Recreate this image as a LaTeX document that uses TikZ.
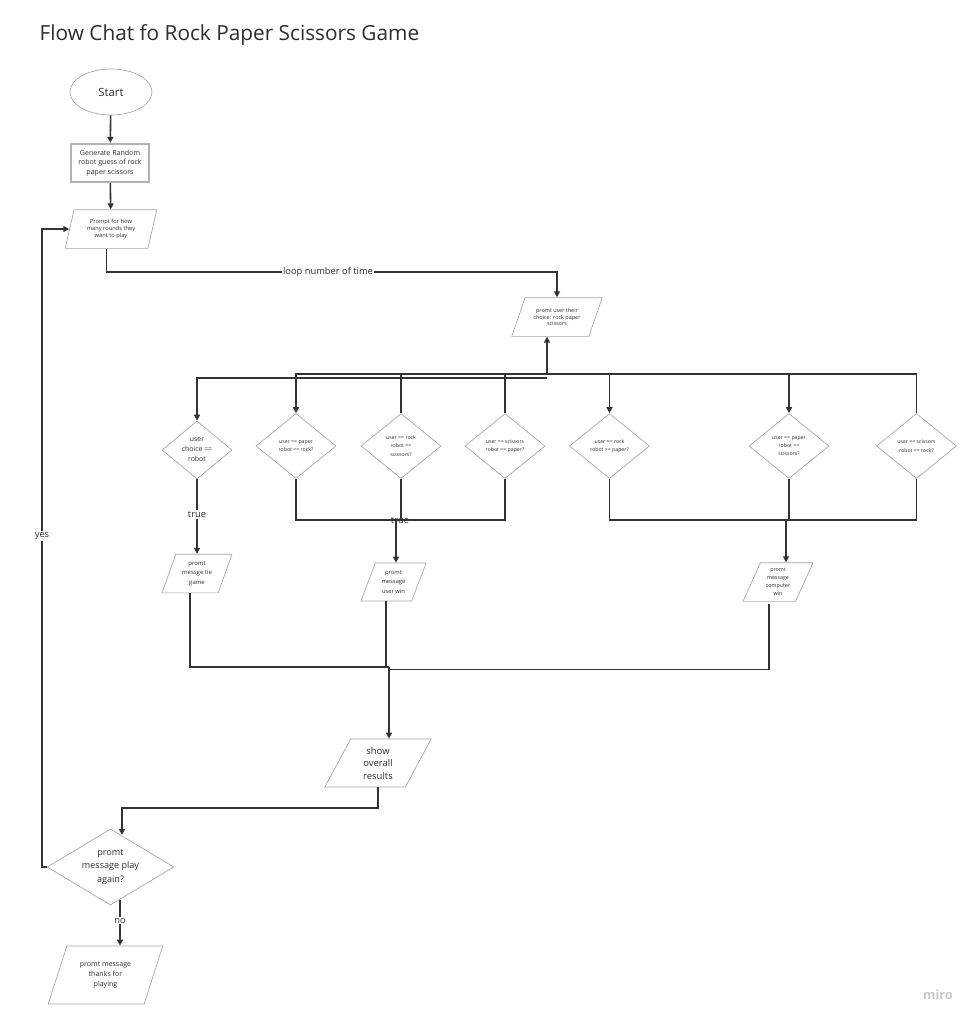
\documentclass[tikz,border=0pt]{standalone}
\usepackage{fontspec}
\setmainfont{Open Sans}
\usetikzlibrary{calc,positioning,arrows.meta,shapes.geometric}
\definecolor{lineink}{RGB}{51,51,51}
\definecolor{edgegray}{RGB}{165,165,165}
\definecolor{textink}{RGB}{45,45,45}
\newcommand{\fs}[2]{\fontsize{#1}{#2}\selectfont}
\tikzset{
  conn/.style={draw=lineink,line width=1.2pt,-{Triangle[length=4.5pt,width=4.5pt]}},
  plainline/.style={draw=lineink,line width=1.2pt},
  shapeline/.style={draw=edgegray,line width=0.5pt,text=textink,inner sep=0pt,align=center},
  iobox/.style={shapeline,trapezium,trapezium stretches=true,
    trapezium left angle=#1,trapezium right angle=180-#1},
  decide/.style={shapeline,diamond,aspect=#1},
  decide/.default=1.2,
  startnode/.style={shapeline,ellipse},
  genbox/.style={shapeline,rectangle,draw=edgegray!85,line width=1.3pt},
  lbl/.style={text=textink,inner sep=1pt,font=\fs{7}{8}},
}
\begin{document}
\begin{tikzpicture}[x=0.75pt,y=-0.75pt]
\useasboundingbox (0,0) rectangle (978,1022);
% top part
\node[text=textink,anchor=base west,font=\fs{15.6}{18}] (title) at (35,40) {Flow Chat fo Rock Paper Scissors Game};
\node[startnode,minimum width=61.5pt,minimum height=34.5pt,font=\fs{8.5}{9}] (start) at (111,92) {Start};
\node[genbox,minimum width=59pt,minimum height=29pt,font=\fs{5.3}{7}] (gen) at (110,163) {Generate Random\\robot guess of rock\\paper scissors};
\node[iobox=74,minimum width=69pt,minimum height=29pt,font=\fs{4.3}{5.5}] (rounds) at (111,229) {Prompt for how\\many rounds they\\want to play};
\node[iobox=61,minimum width=68pt,minimum height=29pt,font=\fs{4.1}{5}] (choice) at (557,317) {promt user their\\choice: rock paper\\scissors};
\draw[conn] (start) -- (gen);
\draw[conn] (gen) -- (rounds);
\coordinate (loopmid) at (328,272);
\draw[conn] (rounds.bottom side) |- (loopmid) node[lbl,fill=white] {loop number of time} -| (choice.north);

% decisions
\node[decide,minimum width=52.5pt,minimum height=43.5pt,font=\fs{5.2}{7.5}] (dTie) at (197,450) {user\\choice ==\\robot};
\foreach \nm/\xx/\txt in {dPR/296/{user == paper\\robot == rock?},
    dRS/401/{user == rock\\robot ==\\scissors?},
    dSP/505/{user == scissors\\robot == paper?},
    dRP/609.5/{user == rock\\robot == paper?},
    dPS/789/{user == paper\\robot ==\\scissors?},
    dSR/916.5/{user == scissors\\robot == rock?}}
  \node[decide=1.23,minimum width=60pt,minimum height=48.75pt,font=\fs{3.9}{6.2}] (\nm) at (\xx,446) {\txt};

% bus to the decisions
\coordinate (bus) at (547,374);
\coordinate (busL) at (547,378);
\draw[conn] (bus) -- (bus |- choice.south);
\draw[conn] (busL) -| (dTie.north);
\foreach \nm/\tip in {dPR/conn,dRS/plainline,dSP/plainline,dRP/conn,dPS/conn,dSR/plainline}
  \draw[\tip] (bus) -| (\nm.north);

% results of a round
\node[iobox=68,minimum width=52.5pt,minimum height=29pt,font=\fs{4.5}{7}] (oTie) at (197,573.5) {promt\\messge tie\\game};
\node[iobox=67,minimum width=49pt,minimum height=28.5pt,font=\fs{4.35}{6.9}] (oUser) at (393.5,582) {promt\\message\\user win};
\node[iobox=66,minimum width=52.5pt,minimum height=29pt,font=\fs{4}{5.9}] (oComp) at (778,582) {promt\\message\\computer\\win};
\draw[conn] (dTie.south) -- (dTie.south |- oTie.north) node[lbl,pos=0.47,fill=white] {true};
\coordinate (joinU) at (396,520);
\coordinate (joinC) at (786,520);
\foreach \nm in {dPR,dRS,dSP} \draw[plainline] (\nm.south) |- (joinU);
\foreach \nm in {dRP,dPS,dSR} \draw[plainline] (\nm.south) |- (joinC);
\draw[conn,line width=1.8pt] (joinU) -- (joinU |- oUser.north);
\node[lbl] (trueU) at (400,520) {true};
\draw[conn] (joinC) -- (joinC |- oComp.north);

% end of the game
\node[iobox=66.6,minimum width=80pt,minimum height=36pt,font=\fs{7.1}{9.4}] (results) at (378,763) {show\\overall\\results};
\coordinate (merge) at (389,667);
\draw[plainline] (oTie.bottom side) |- (merge);
\draw[plainline] (oUser.bottom side) |- (merge);
\draw[plainline] ([yshift=-2pt]oComp.bottom side) |- ([yshift=-2pt]merge);
\draw[conn,line width=1.8pt] (merge) -- (merge |- results.north);
\node[decide=1.67,minimum width=95pt,minimum height=57pt,font=\fs{6.8}{9.9}] (again) at (110.5,867) {promt\\message play\\again?};
\coordinate (backbend) at (122,808);
\coordinate (againtop) at (122,835);
\draw[conn] (results.south) |- (backbend) -- (againtop);
\coordinate (yesbend) at (42,536);
\draw[conn] (again.west) -| (yesbend) node[lbl,fill=white] {yes} |- (rounds.left side);
\node[iobox=65,minimum width=86pt,minimum height=43.5pt,font=\fs{5.3}{7.6}] (thanks) at (105.5,975) {promt message\\thanks for\\playing};
\coordinate (nostart) at (120,900);
\draw[conn] (nostart) -- (nostart |- thanks.north) node[lbl,pos=0.45,fill=white] {no};
\node[text=gray!45,font=\fs{9.5}{10}\bfseries] (miro) at (938,995) {miro};
\end{tikzpicture}
\end{document}
